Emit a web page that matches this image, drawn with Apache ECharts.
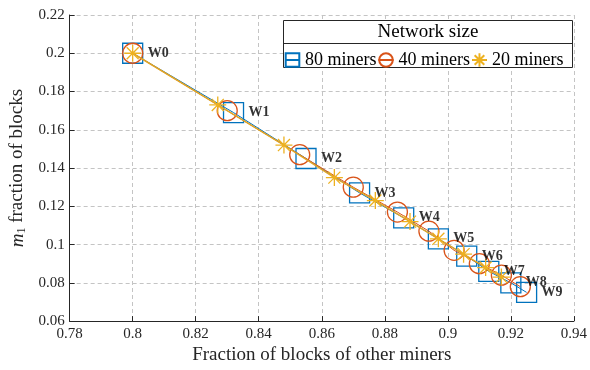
<!DOCTYPE html>
<html>
<head>
<meta charset="utf-8">
<script src="https://cdn.jsdelivr.net/npm/echarts@6/dist/echarts.min.js"></script>
<style>html,body{margin:0;padding:0;background:#fff}#c{width:590px;height:370px}</style>
</head>
<body>
<div id="c"></div>
<script>
const xTicks = [0.78, 0.80, 0.82, 0.84, 0.86, 0.88, 0.90, 0.92, 0.94];
const yTicks = [0.06, 0.08, 0.10, 0.12, 0.14, 0.16, 0.18, 0.20, 0.22];
const pointLabels = ['W0','W1','W2','W3','W4','W5','W6','W7','W8','W9'];
const seriesNames = ['80 miners', '40 miners', '20 miners'];
const legendTitle = 'Network size';
const xTitle = 'Fraction of blocks of other miners';

const x80 = [0.800, 0.832, 0.855, 0.872, 0.886, 0.897, 0.906, 0.913, 0.920, 0.925];
const y80 = [0.200, 0.169, 0.145, 0.127, 0.114, 0.103, 0.094, 0.086, 0.080, 0.075];
const x40 = [0.800, 0.830, 0.853, 0.870, 0.884, 0.894, 0.902, 0.910, 0.917, 0.923];
const y40 = [0.200, 0.170, 0.147, 0.130, 0.117, 0.107, 0.097, 0.090, 0.084, 0.078];
const x20 = [0.800, 0.827, 0.848, 0.864, 0.877, 0.888, 0.897, 0.905, 0.912, 0.917];
const y20 = [0.200, 0.173, 0.152, 0.135, 0.123, 0.112, 0.103, 0.095, 0.088, 0.083];

const pairs = (xs, ys) => xs.map((x, i) => [x, ys[i]]);
const SERIF = '"Liberation Serif", "Times New Roman", serif';
const BLUE = '#0072BD', RED = '#D95319', YEL = '#EDB120';
const STAR = 'path://M0 -10 L0 10 M-10 0 L10 0 M-7.07 -7.07 L7.07 7.07 M-7.07 7.07 L7.07 -7.07';

const chart = echarts.init(document.getElementById('c'), null, {renderer: 'canvas'});
const fmt = v => String(+v.toFixed(2));
const splitStyle = {show: true, lineStyle: {color: '#c4c4c4', type: [4, 3], width: 1}};
const axisCommon = {
  axisLine: {show: true, onZero: false, lineStyle: {color: '#262626', width: 1}},
  axisTick: {show: true, inside: true, length: 5, lineStyle: {color: '#262626'}},
  splitLine: splitStyle,
  nameTextStyle: {fontFamily: SERIF, fontSize: 19, color: '#262626'}
};

chart.setOption({
  animation: false,
  backgroundColor: '#fff',
  grid: {left: 65, right: 15, top: 15, bottom: 38, containLabel: false},
  xAxis: Object.assign({}, axisCommon, {
    type: 'value', min: xTicks[0], max: xTicks[xTicks.length - 1], interval: 0.02,
    name: xTitle, nameLocation: 'middle', nameGap: 20,
    axisLabel: {fontFamily: SERIF, fontSize: 15, color: '#262626', margin: 5, formatter: fmt}
  }),
  yAxis: Object.assign({}, axisCommon, {
    type: 'value', min: yTicks[0], max: yTicks[yTicks.length - 1], interval: 0.02,
    name: '{m|m}{s|1} fraction of blocks', nameLocation: 'middle', nameGap: 31,
    nameTextStyle: {fontFamily: SERIF, fontSize: 19, color: '#262626',
      rich: {m: {fontFamily: SERIF, fontStyle: 'italic', fontSize: 19, color: '#262626'},
             s: {fontFamily: SERIF, fontSize: 12, color: '#262626', verticalAlign: 'bottom', padding: [8, 0, 0, 0]}}},
    axisLabel: {fontFamily: SERIF, fontSize: 15, color: '#262626', margin: 5, formatter: fmt}
  }),
  legend: {
    data: seriesNames, left: 284, top: 46, itemWidth: 15, itemHeight: 17, itemGap: 1, padding: [5, 0, 5, 0],
    textStyle: {fontFamily: SERIF, fontSize: 18, color: '#000'}, z: 10
  },
  graphic: {elements: [
    {type: 'rect', shape: {x: 283.5, y: 20.5, width: 289, height: 47}, z: 8,
     style: {fill: '#fff', stroke: '#262626', lineWidth: 1}},
    {type: 'line', shape: {x1: 283.5, y1: 43.5, x2: 572.5, y2: 43.5}, z: 9,
     style: {stroke: '#262626', lineWidth: 1}},
    {type: 'text', x: 428, y: 32, z: 9,
     style: {text: legendTitle, fontFamily: SERIF, fontSize: 19, fill: '#000', textAlign: 'center', textVerticalAlign: 'middle'}}
  ]},
  series: [
    {name: seriesNames[0], type: 'line', data: pairs(x80, y80), symbol: 'rect', symbolSize: 20, z: 2,
     lineStyle: {color: BLUE, width: 1}, itemStyle: {color: 'rgba(0,0,0,0)', borderColor: BLUE, borderWidth: 1.3}},
    {name: seriesNames[1], type: 'line', data: pairs(x40, y40), symbol: 'circle', symbolSize: 20, z: 3,
     lineStyle: {color: RED, width: 1}, itemStyle: {color: 'rgba(0,0,0,0)', borderColor: RED, borderWidth: 1.3}},
    {name: seriesNames[2], type: 'line', data: pairs(x20, y20), symbol: STAR, symbolSize: 17, symbolKeepAspect: true, z: 4,
     lineStyle: {color: '#E0A526', width: 1.5}, itemStyle: {color: 'rgba(0,0,0,0)', borderColor: YEL, borderWidth: 1.3}},
    {name: 'labels', type: 'scatter', data: pairs(x80, y80), symbolSize: 20, z: 6, silent: true,
     itemStyle: {color: 'rgba(0,0,0,0)'},
     label: {show: true, position: 'right', distance: 5, formatter: p => pointLabels[p.dataIndex],
       fontFamily: SERIF, fontWeight: 'bold', fontSize: 14, color: '#000'}}
  ]
});
</script>
</body>
</html>
